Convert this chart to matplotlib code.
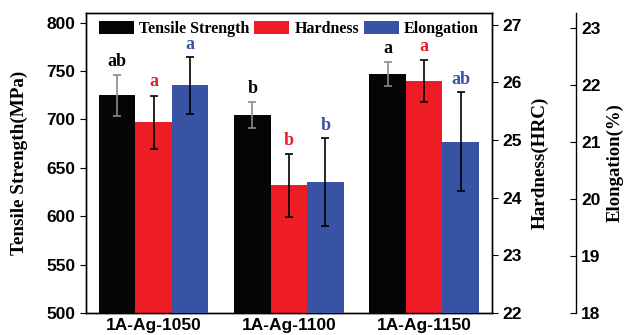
import numpy as np
import matplotlib.pyplot as plt

# Data
samples = ['1A-Ag-1050', '1A-Ag-1100', '1A-Ag-1150']
tensile = [725, 705, 747]
tensile_err = [21, 13.5, 12.5]
hardness = [25.31, 24.21, 26.02]
hardness_err = [0.46, 0.55, 0.36]
elongation = [21.99, 20.30, 21.00]
elongation_err = [0.50, 0.77, 0.87]
tensile_lbl = ['ab', 'b', 'a']
hardness_lbl = ['a', 'b', 'a']
elongation_lbl = ['a', 'b', 'ab']

c_black = '#050505'
c_red = '#ee1c24'
c_blue = '#3953a4'

serif = 'Liberation Serif'
sans = 'Liberation Sans'

fig = plt.figure(figsize=(6.28, 3.35), dpi=100)
ax1 = fig.add_axes([0.137, 0.066, 0.646, 0.895])
ax2 = ax1.twinx()
ax3 = ax1.twinx()
ax3.spines['right'].set_position(('axes', 1.2086))
for sp in ['top', 'left', 'bottom']:
    ax3.spines[sp].set_visible(False)

x = np.arange(1, len(samples) + 1)
w = 0.27

ekw = dict(elinewidth=1.2, capthick=1.2)
b1 = ax1.bar(x - w, tensile, w, color=c_black, yerr=tensile_err,
             ecolor='#8a8a8a', capsize=3, error_kw=ekw, label='Tensile Strength')
b2 = ax2.bar(x, hardness, w, color=c_red, yerr=hardness_err,
             ecolor='black', capsize=3, error_kw=ekw, label='Hardness')
b3 = ax3.bar(x + w, elongation, w, color=c_blue, yerr=elongation_err,
             ecolor='black', capsize=3, error_kw=ekw, label='Elongation')

# letras de significancia
lf = dict(fontfamily=serif, fontweight='bold', fontsize=13, ha='center',
          va='baseline', textcoords='offset points')
for i in range(len(samples)):
    ax1.annotate(tensile_lbl[i], (x[i] - w, tensile[i] + tensile_err[i]),
                 xytext=(0, 6.5), color=c_black, **lf)
    ax2.annotate(hardness_lbl[i], (x[i], hardness[i] + hardness_err[i]),
                 xytext=(0, 6.5), color=c_red, **lf)
    ax3.annotate(elongation_lbl[i], (x[i] + w, elongation[i] + elongation_err[i]),
                 xytext=(0, 6), color=c_blue, **lf)

ax1.set_xlim(0.5, 3.5)
ax1.set_ylim(500, 810)
ax2.set_ylim(22, 27.2)
ax3.set_ylim(18, 23.26)

ax1.set_xticks(x)
ax1.set_xticklabels(samples)
ax1.set_yticks(np.arange(500, 801, 50))
ax2.set_yticks(np.arange(22, 28, 1))
ax3.set_yticks(np.arange(18, 24, 1))

ax1.tick_params(axis='x', direction='in', length=4, color='#555555', pad=4)
ax1.tick_params(axis='y', direction='out', length=4)
ax2.tick_params(axis='y', direction='out', length=4)
ax3.tick_params(axis='y', direction='in', length=4)

for ax in (ax1, ax2, ax3):
    for lab in ax.get_xticklabels() + ax.get_yticklabels():
        lab.set_fontfamily(sans)
        lab.set_fontweight('bold')
        lab.set_fontsize(12.5)
    for sp in ax.spines.values():
        sp.set_linewidth(1.0)

ax1.set_ylabel('Tensile Strength(MPa)', fontfamily=serif, fontweight='bold', fontsize=13.8)
ax2.set_ylabel('Hardness(HRC)', fontfamily=serif, fontweight='bold', fontsize=13.8)
ax3.set_ylabel('Elongation(%)', fontfamily=serif, fontweight='bold', fontsize=13.5)
ax1.yaxis.set_label_coords(-0.143, 0.5)
ax2.yaxis.set_label_coords(1.098, 0.5)
ax3.yaxis.set_label_coords(1.283, 0.5)

leg = ax3.legend([b1, b2, b3], ['Tensile Strength', 'Hardness', 'Elongation'],
                 loc='upper center', ncol=3, frameon=False,
                 prop=dict(family=serif, weight='bold', size=11.5),
                 handlelength=2.2, handleheight=0.82, handletextpad=0.3,
                 columnspacing=0.3, borderaxespad=0.1)

fig.savefig('out.png', dpi=100)
